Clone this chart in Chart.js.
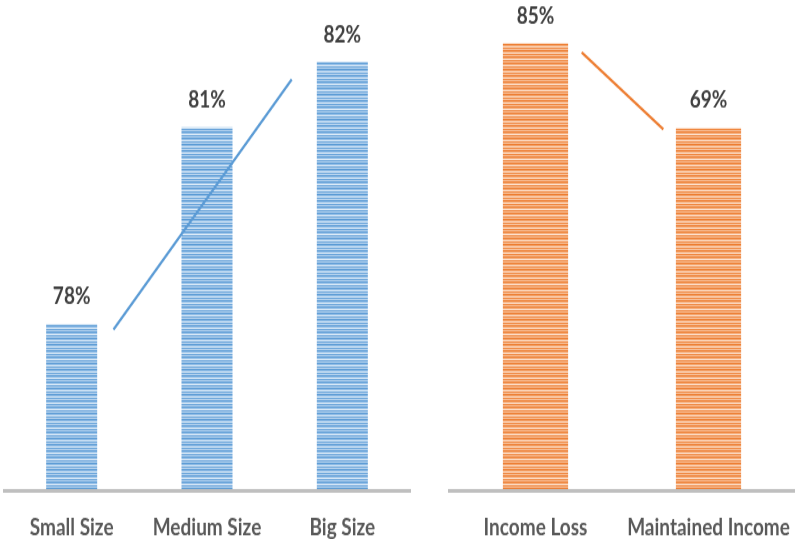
<!DOCTYPE html>
<html>
<head>
<meta charset="utf-8">
<script src="https://cdn.jsdelivr.net/npm/chart.js@4.4.0/dist/chart.umd.min.js"></script>
<style>
  html, body { margin: 0; padding: 0; background: #ffffff; overflow: hidden; width: 795px; height: 539px; }
  .panel { position: absolute; top: 0; height: 431px; transform-origin: 0 0; transform: scaleY(1.2506); }
  #leftPanel { left: 0; width: 420px; }
  #rightPanel { left: 440px; width: 385px; }
</style>
</head>
<body>
<div class="panel" id="leftPanel"><canvas id="sizeChart"></canvas></div>
<div class="panel" id="rightPanel"><canvas id="incomeChart"></canvas></div>
<script>
// Business size panel
const sizeLabels = ['Small Size', 'Medium Size', 'Big Size'];
const sizeValues = [78, 81, 82];
const sizeTrend = [{ x: 0.309, y: 77.92 }, { x: 1.626, y: 81.73 }];

// Income panel
const incomeLabels = ['Income Loss', 'Maintained Income'];
const incomeValues = [85, 69];
const incomeTrend = [{ x: 0.267, y: 83.33 }, { x: 0.739, y: 68.69 }];

// Horizontal stripe fill for the bars
function stripes(rows) {
  const c = document.createElement('canvas');
  c.width = 4; c.height = rows.length;
  const g = c.getContext('2d');
  rows.forEach((col, i) => { g.fillStyle = col; g.fillRect(0, i, 4, 1); });
  return g.createPattern(c, 'repeat');
}
const blueFill = stripes(['#5b9bd5', '#94bfe7', '#dbeaf7', '#6aa4da', '#b8d4ef']);
const orangeFill = stripes(['#ed7d31', '#f4a873', '#fde0cc', '#ef8740', '#f8c29c']);

// Percentage labels above each bar
const valueLabels = {
  id: 'valueLabels',
  afterDatasetsDraw(chart) {
    const { ctx } = chart;
    const idx = chart.data.datasets.findIndex(d => d.type === 'bar');
    const meta = chart.getDatasetMeta(idx);
    const vals = chart.data.datasets[idx].data;
    ctx.save();
    ctx.font = 'bold 19px Lato';
    ctx.fillStyle = '#404040';
    ctx.textAlign = 'center';
    ctx.textBaseline = 'middle';
    meta.data.forEach((bar, i) => ctx.fillText(vals[i] + '%', bar.x, bar.y - 22));
    ctx.restore();
  }
};

function makeChart(canvasId, labels, values, trend, fill, lineColor, yMin, yMax, pad) {
  return new Chart(document.getElementById(canvasId), {
    data: {
      labels: labels,
      datasets: [
        {
          type: 'line',
          data: trend,
          xAxisID: 'xt',
          yAxisID: 'y',
          borderColor: lineColor,
          borderWidth: 2.2,
          pointRadius: 0,
          fill: false,
          order: 0
        },
        {
          type: 'bar',
          data: values,
          xAxisID: 'x',
          yAxisID: 'y',
          backgroundColor: fill,
          borderWidth: 0,
          grouped: false,
          categoryPercentage: 1,
          barPercentage: 0.377,
          order: 1
        }
      ]
    },
    options: {
      responsive: true,
      maintainAspectRatio: false,
      animation: false,
      layout: { padding: pad },
      plugins: { legend: { display: false }, tooltip: { enabled: false } },
      scales: {
        x: {
          type: 'category',
          offset: true,
          grid: { display: false },
          border: { display: true, color: '#bfbfbf', width: 3, z: 1 },
          ticks: {
            font: { family: 'Lato', weight: 'bold', size: 19, lineHeight: 1 },
            color: '#595959',
            padding: 11.6,
            maxRotation: 0,
            autoSkip: false
          },
          afterFit(scale) { scale.height = 38.4; }
        },
        xt: { type: 'linear', display: false, min: -0.5, max: labels.length - 0.5 },
        y: { display: false, min: yMin, max: yMax }
      }
    },
    plugins: [valueLabels]
  });
}

makeChart('sizeChart', sizeLabels, sizeValues, sizeTrend, blueFill, '#5b9bd5', 75.46, 82.92,
  { left: 4, right: 10, top: 0, bottom: 0 });
makeChart('incomeChart', incomeLabels, incomeValues, incomeTrend, orangeFill, '#ed7d31', 0, 93,
  { left: 9, right: 30, top: 0, bottom: 0 });
</script>
</body>
</html>
